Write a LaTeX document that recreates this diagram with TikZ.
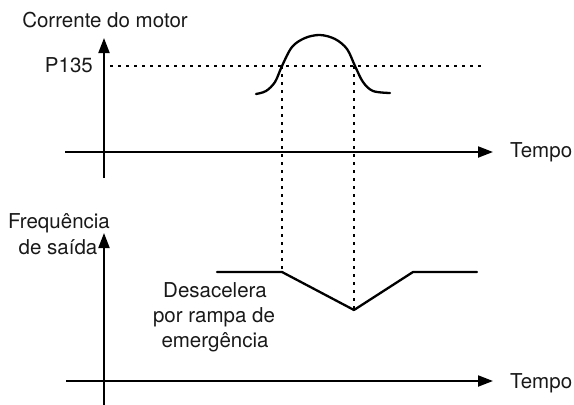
\documentclass[tikz,border=0pt]{standalone}
\usepackage{fontspec}
\setmainfont{TeX Gyre Heros}
\usetikzlibrary{arrows.meta}
\begin{document}
\begin{tikzpicture}[x=1pt,y=-1pt,
  axis/.style={line width=2pt,-{Triangle[length=15pt,width=11pt]}},
  guide/.style={line width=1.8pt,dash pattern=on 2.6pt off 5.4pt},
  signal/.style={line width=2.3pt,line join=round,line cap=round},
  lbl/.style={inner sep=0pt,text=black!90,font=\fontsize{20.5}{24}\selectfont}]
\useasboundingbox (0,0) rectangle (574,405);
% coordinates
\coordinate (ax1s) at (65,152);
\coordinate (ax1e) at (493,152);
\coordinate (ay1s) at (104,178);
\coordinate (ay1e) at (104,38);
\coordinate (ax2s) at (66,381);
\coordinate (ax2e) at (493,381);
\coordinate (ay2s) at (104,405);
\coordinate (ay2e) at (104,233);
\coordinate (ps) at (110,66);
\coordinate (pe) at (484,66);
\coordinate (c1) at (282,66);
\coordinate (c2) at (354,66);
\coordinate (f0) at (217,272);
\coordinate (f1) at (282,272);
\coordinate (f2) at (354,310);
\coordinate (f3) at (413,272);
\coordinate (f4) at (477,272);
% axes
\draw[axis] (ax1s) -- (ax1e);
\draw[axis] (ay1s) -- (ay1e);
\draw[axis] (ax2s) -- (ax2e);
\draw[axis] (ay2s) -- (ay2e);
% guides
\draw[guide] (ps) -- (pe);
\draw[guide] (c1) -- (f1);
\draw[guide] (c2) -- (f2);
% current curve
\draw[signal] plot[smooth,tension=0.55] coordinates {(256,94) (266,91) (275,82) (282,66) (292,47) (305,38) (320,35) (335,39) (347,49) (355,66) (363,82) (373,91) (390,93)};
% frequency
\draw[signal] (f0) -- (f1) -- (f2) -- (f3) -- (f4);
% labels
\node[lbl,anchor=base] (tc) at (105,27) {Corrente do motor};
\node[lbl,anchor=base east] (tp) at (93,72) {P135};
\node[lbl,anchor=base west] (tt1) at (510,157) {Tempo};
\node[lbl,anchor=base west] (tt2) at (510,388) {Tempo};
\node[lbl,anchor=base] (tf1) at (59,228) {Frequência};
\node[lbl,anchor=base] (tf2) at (58,254) {de saída};
\node[lbl,anchor=base] (td1) at (215,297) {Desacelera};
\node[lbl,anchor=base] (td2) at (214,322) {por rampa de};
\node[lbl,anchor=base] (td3) at (215,347) {emergência};
\end{tikzpicture}
\end{document}
